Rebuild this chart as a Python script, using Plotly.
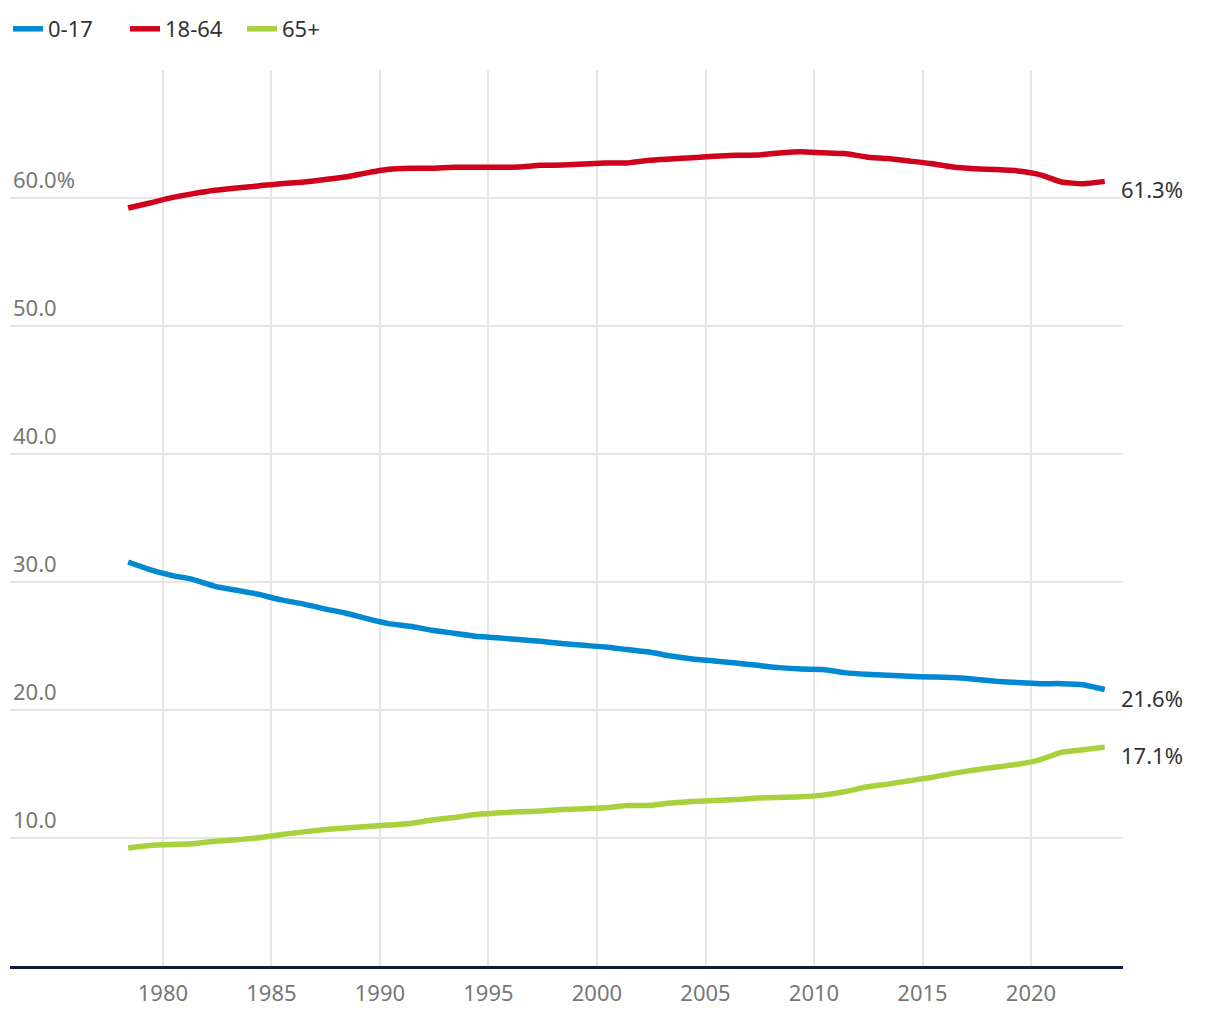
import plotly.graph_objects as go

years = list(range(1978, 2024))

age_0_17 = [31.56, 30.97, 30.52, 30.19, 29.66, 29.35, 29.04, 28.62, 28.31, 27.92,
            27.58, 27.14, 26.75, 26.54, 26.23, 26.00, 25.76, 25.65, 25.50, 25.37,
            25.19, 25.05, 24.92, 24.72, 24.53, 24.22, 23.99, 23.83, 23.67, 23.49,
            23.31, 23.20, 23.17, 22.92, 22.79, 22.71, 22.63, 22.58, 22.53, 22.40,
            22.24, 22.14, 22.06, 22.06, 21.98, 21.60]

age_18_64 = [59.22, 59.61, 60.03, 60.34, 60.60, 60.78, 60.94, 61.12, 61.23, 61.43,
             61.64, 61.96, 62.24, 62.32, 62.32, 62.40, 62.40, 62.40, 62.42, 62.55,
             62.58, 62.66, 62.74, 62.74, 62.95, 63.05, 63.15, 63.26, 63.34, 63.36,
             63.52, 63.62, 63.54, 63.47, 63.21, 63.08, 62.89, 62.69, 62.42, 62.29,
             62.22, 62.11, 61.83, 61.25, 61.12, 61.30]

age_65_plus = [9.22, 9.42, 9.50, 9.55, 9.74, 9.87, 10.02, 10.26, 10.46, 10.65,
               10.78, 10.90, 11.01, 11.14, 11.40, 11.60, 11.84, 11.95, 12.05, 12.10,
               12.23, 12.29, 12.36, 12.54, 12.54, 12.73, 12.86, 12.93, 13.00, 13.12,
               13.17, 13.22, 13.35, 13.61, 13.98, 14.21, 14.48, 14.73, 15.05, 15.31,
               15.54, 15.76, 16.11, 16.69, 16.90, 17.10]

series_names = ["0-17", "18-64", "65+"]
series_values = [age_0_17, age_18_64, age_65_plus]
series_colors = ["#0088d1", "#d0021b", "#a8d13d"]

y_tick_vals = [10, 20, 30, 40, 50, 60]
y_tick_text = ["10.0", "20.0", "30.0", "40.0", "50.0", "60.0%"]
x_tick_years = [1980, 1985, 1990, 1995, 2000, 2005, 2010, 2015, 2020]

dates = [f"{y}-05-26" for y in years]

FONT = "Noto Sans"

fig = go.Figure()
for name, vals, col in zip(series_names, series_values, series_colors):
    fig.add_trace(go.Scatter(
        x=dates, y=vals, name=name, mode="lines",
        line=dict(color=col, width=5.5, shape="spline", smoothing=0.5),
        hoverinfo="skip",
    ))

for vals in series_values:
    fig.add_annotation(
        x=dates[-1], y=vals[-1], text=f"{vals[-1]:.1f}%",
        showarrow=False, xanchor="left", yanchor="middle",
        xshift=14, yshift=-8,
        font=dict(family=FONT, size=22, color="#333333"),
    )

fig.update_layout(
    width=1204, height=1004,
    margin=dict(l=2, r=89, t=62, b=46),
    paper_bgcolor="white", plot_bgcolor="white",
    font=dict(family=FONT, size=22, color="#333333"),
    showlegend=True,
    legend=dict(
        orientation="h", xref="container", yref="container",
        x=-0.002, y=1.0, xanchor="left", yanchor="top",
        entrywidth=72, entrywidthmode="pixels",
        font=dict(family=FONT, size=22, color="#333333"),
        bgcolor="rgba(0,0,0,0)",
    ),
    xaxis=dict(
        type="date",
        range=["1972-12-15", "2024-03-28"],
        tickvals=[f"{y}-01-01" for y in x_tick_years],
        ticktext=[str(y) for y in x_tick_years],
        showgrid=True, gridcolor="#e6e6e6", gridwidth=2,
        showline=True, linecolor="#101935", linewidth=3,
        ticks="", ticklabelstandoff=6,
        tickfont=dict(family=FONT, size=22, color="#777777"),
        zeroline=False,
    ),
    yaxis=dict(
        range=[0, 70],
        tickvals=y_tick_vals, ticktext=y_tick_text,
        showgrid=True, gridcolor="#e6e6e6", gridwidth=2,
        ticks="", ticklabelposition="inside",
        ticklabelshift=-18, ticklabelstandoff=0,
        tickfont=dict(family=FONT, size=22, color="#777777"),
        zeroline=False, showline=False,
    ),
)

fig.write_html("out.html")
